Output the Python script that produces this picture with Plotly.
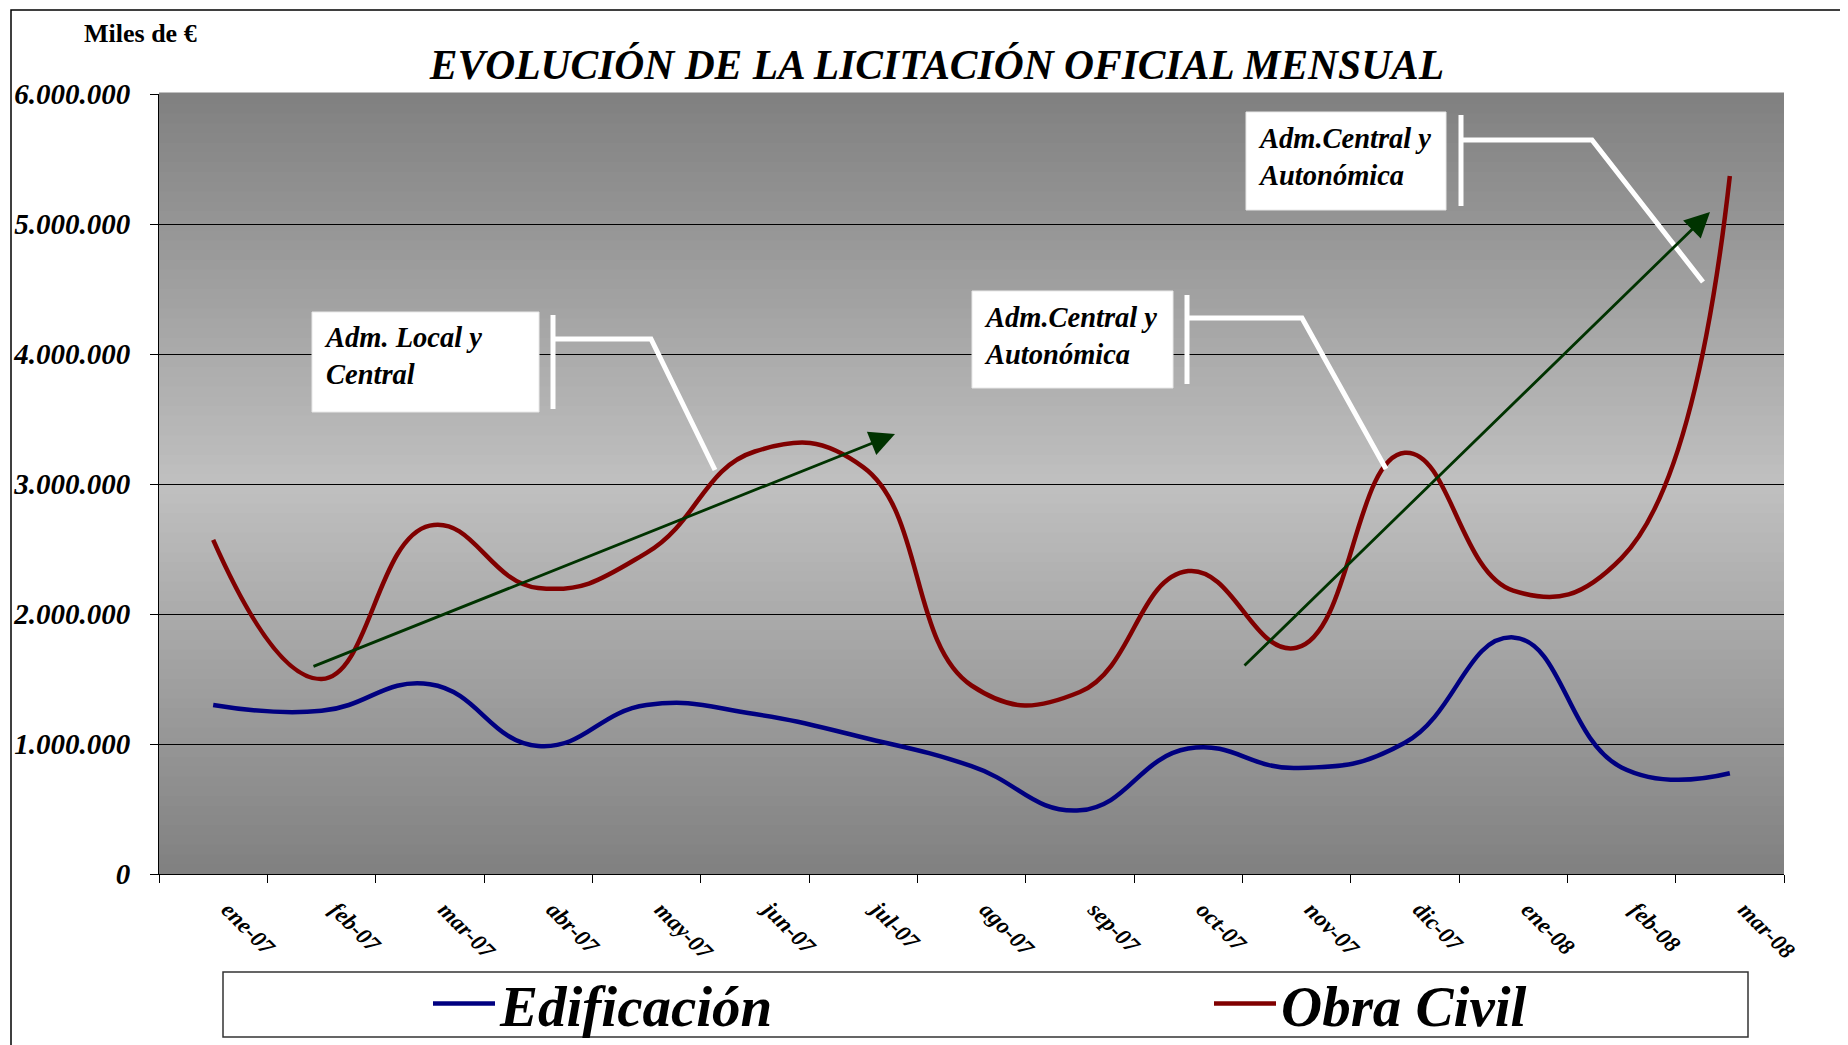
import plotly.graph_objects as go

# monthly tender data, miles de euros
months = ["ene-07", "feb-07", "mar-07", "abr-07", "may-07", "jun-07", "jul-07", "ago-07",
          "sep-07", "oct-07", "nov-07", "dic-07", "ene-08", "feb-08", "mar-08"]
edificacion = [1300000, 1255000, 1460000, 985000, 1300000, 1230000, 1050000, 830000,
               490000, 965000, 815000, 1010000, 1820000, 820000, 775000]
obra_civil = [2570000, 1500000, 2680000, 2200000, 2470000, 3250000, 3130000, 1450000,
              1400000, 2330000, 1740000, 3240000, 2180000, 2430000, 5370000]

# page body adds an 8px margin, so the figure is drawn 8px smaller
OFF = 8
W_FIG, H_FIG = 1848 - OFF, 1045 - OFF
ML, MR, MT, MB = 159 - OFF, 64, 94 - OFF, 171
PW = W_FIG - ML - MR
PH = H_FIG - MT - MB
FONT = "Liberation Serif"


def px(x):
    # screen pixel x -> paper x
    return (x - OFF - ML) / PW


def py(y):
    # screen pixel y -> paper y
    return (H_FIG - MB - (y - OFF)) / PH


fig = go.Figure()
fig.add_trace(go.Scatter(x=months, y=edificacion, name="Edificación", mode="lines",
                         line=dict(color="#000080", width=4.5, shape="spline", smoothing=1.3),
                         legend="legend"))
fig.add_trace(go.Scatter(x=months, y=obra_civil, name="Obra Civil", mode="lines",
                         line=dict(color="#800000", width=4.5, shape="spline", smoothing=1.3),
                         legend="legend2"))

shapes = []
# vertical grey gradient behind the plot
n = 80
for k in range(n):
    t = (k + 0.5) / n
    g = int(round(128 + 64 * (1 - abs(2 * t - 1))))
    shapes.append(dict(type="rect", xref="x domain", yref="y domain",
                       x0=0, x1=1, y0=k / n, y1=(k + 1) / n + 0.002,
                       fillcolor=f"rgb({g},{g},{g})", line=dict(width=0), layer="below"))

# outer frame
shapes.append(dict(type="rect", xref="paper", yref="paper",
                   x0=px(11), x1=px(1900), y0=py(10), y1=py(1100),
                   line=dict(color="black", width=1.5)))
# legend frame
shapes.append(dict(type="rect", xref="paper", yref="paper",
                   x0=px(223), x1=px(1748), y0=py(972), y1=py(1037),
                   line=dict(color="#333", width=1.5), fillcolor="white", layer="below"))

# callout boxes and white leader lines
callouts = [
    dict(box=(312, 312, 539, 412), bar=(553, 315, 409), path=[(553, 339), (651, 339), (715, 470)],
         text="Adm. Local y<br>Central", tx=322, ty=356),
    dict(box=(972, 291, 1173, 388), bar=(1187, 295, 384), path=[(1187, 318), (1302, 318), (1386, 469)],
         text="Adm.Central y<br>Autonómica", tx=982, ty=336),
    dict(box=(1246, 112, 1446, 210), bar=(1461, 115, 206), path=[(1461, 140), (1592, 140), (1703, 282)],
         text="Adm.Central y<br>Autonómica", tx=1256, ty=157),
]
annotations = []
for c in callouts:
    x0, y0, x1, y1 = c["box"]
    shapes.append(dict(type="rect", xref="paper", yref="paper",
                       x0=px(x0), x1=px(x1), y0=py(y0), y1=py(y1),
                       fillcolor="white", line=dict(color="#e8e8e8", width=1)))
    bx, by0, by1 = c["bar"]
    shapes.append(dict(type="line", xref="paper", yref="paper",
                       x0=px(bx), x1=px(bx), y0=py(by0), y1=py(by1),
                       line=dict(color="white", width=5)))
    p = c["path"]
    d = "M " + " L ".join(f"{px(a)},{py(b)}" for a, b in p)
    shapes.append(dict(type="path", xref="paper", yref="paper", path=d,
                       line=dict(color="white", width=5)))
    annotations.append(dict(xref="paper", yref="paper", x=px(c["tx"]), y=py(c["ty"]),
                            xanchor="left", yanchor="middle", align="left", showarrow=False,
                            text=c["text"],
                            font=dict(family=FONT, size=28.5, color="black",
                                      weight="bold", style="italic")))

# green trend arrows (tail -> tip, pixels)
arrows = [((312, 667), (895, 434)), ((1243, 667), (1710, 212))]
for (tx, ty), (hx, hy) in arrows:
    annotations.append(dict(xref="x domain", yref="y domain", axref="x domain", ayref="y domain",
                            x=px(hx), y=py(hy), ax=px(tx), ay=py(ty), text="",
                            showarrow=True, arrowhead=2, arrowsize=1.8, arrowwidth=2.8,
                            arrowcolor="#003300"))

annotations.append(dict(xref="paper", yref="paper", x=px(140), y=py(33),
                        xanchor="center", yanchor="middle", showarrow=False,
                        text="Miles de €",
                        font=dict(family=FONT, size=26, color="black", weight="bold")))

legend_font = dict(family=FONT, size=57, color="black", weight="bold", style="italic")
fig.update_layout(
    width=W_FIG, height=H_FIG,
    margin=dict(l=ML, r=MR, t=MT, b=MB, autoexpand=False),
    paper_bgcolor="white", plot_bgcolor="#a0a0a0",
    separators=",.",
    showlegend=True,
    title=dict(text="EVOLUCIÓN DE LA LICITACIÓN OFICIAL MENSUAL",
               x=(937 - OFF) / W_FIG, xanchor="center", y=1 - (64 - OFF) / H_FIG, yanchor="middle",
               font=dict(family=FONT, size=41.5, color="black", weight="bold", style="italic")),
    shapes=shapes, annotations=annotations,
    legend=dict(x=px(428), y=py(1004), xanchor="left", yanchor="middle", itemwidth=62,
                bgcolor="rgba(0,0,0,0)", borderwidth=0, font=legend_font),
    legend2=dict(x=px(1209), y=py(1004), xanchor="left", yanchor="middle", itemwidth=62,
                 bgcolor="rgba(0,0,0,0)", borderwidth=0, font=legend_font),
)
fig.update_xaxes(type="category", range=[-0.5, len(months) - 0.5], tickson="boundaries",
                 ticks="outside", ticklen=8, tickcolor="black", showline=True,
                 linecolor="black", linewidth=1, showgrid=False, tickangle=45,
                 ticklabelstandoff=12, ticklabelshift=15,
                 tickfont=dict(family=FONT, size=23, color="black", weight="bold", style="italic"))
fig.update_yaxes(range=[0, 6000000], dtick=1000000, tickformat=",d", ticks="outside",
                 ticklen=8, tickcolor="black", showline=True, linecolor="black", linewidth=1,
                 showgrid=True, gridcolor="black", gridwidth=1, zeroline=False,
                 ticklabelstandoff=14,
                 tickfont=dict(family=FONT, size=29, color="black", weight="bold", style="italic"))

fig.write_html("out.html")
